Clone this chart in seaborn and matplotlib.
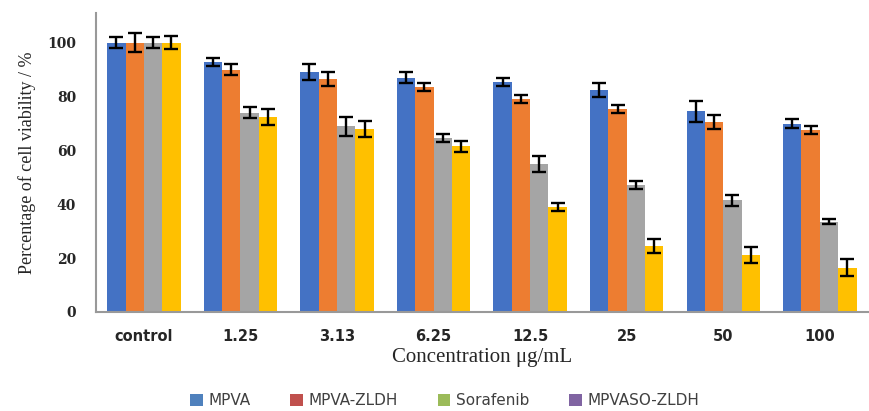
import matplotlib
matplotlib.use("Agg")
import matplotlib.pyplot as plt
from matplotlib.patches import Patch
import numpy as np
import pandas as pd
import seaborn as sns

# data
concentrations = ["control", "1.25", "3.13", "6.25", "12.5", "25", "50", "100"]
series = ["MPVA", "MPVA-ZLDH", "Sorafenib", "MPVASO-ZLDH"]

mpva = [100.0, 93.0, 89.0, 87.0, 85.5, 82.5, 74.5, 70.0]
mpva_zldh = [100.0, 90.0, 86.5, 83.5, 79.0, 75.5, 70.5, 67.5]
sorafenib = [100.0, 74.0, 69.0, 64.5, 55.0, 47.0, 41.5, 33.5]
mpvaso_zldh = [100.0, 72.5, 68.0, 61.5, 39.0, 24.5, 21.0, 16.5]

mpva_err = [2.0, 1.5, 3.0, 2.0, 1.5, 2.5, 4.0, 1.5]
mpva_zldh_err = [3.5, 2.0, 2.5, 1.5, 1.5, 1.5, 2.5, 1.5]
sorafenib_err = [2.0, 2.0, 3.5, 1.5, 3.0, 1.5, 2.0, 1.0]
mpvaso_zldh_err = [2.5, 3.0, 3.0, 2.0, 1.5, 2.5, 3.0, 3.0]

bar_colors = ["#4472C4", "#ED7D31", "#A5A5A5", "#FFC000"]
legend_colors = ["#4F81BD", "#C0504D", "#9BBB59", "#8064A2"]

values = [mpva, mpva_zldh, sorafenib, mpvaso_zldh]
errors = [mpva_err, mpva_zldh_err, sorafenib_err, mpvaso_zldh_err]

df = pd.DataFrame(
    [
        {"conc": c, "series": s, "value": v}
        for s, vals in zip(series, values)
        for c, v in zip(concentrations, vals)
    ]
)

sns.set_style("white")
fig = plt.figure(figsize=(8.69, 4.11), dpi=100)
ax = fig.add_axes([0.110, 0.241, 0.889, 0.727])

sns.barplot(
    data=df, x="conc", y="value", hue="series", order=concentrations,
    hue_order=series, palette=bar_colors, width=0.76, errorbar=None,
    saturation=1, legend=False, linewidth=0, ax=ax,
)

# error bars on top of each bar
for cont, err in zip(ax.containers, errors):
    xs = [b.get_x() + b.get_width() / 2 for b in cont]
    ys = [b.get_height() for b in cont]
    ax.errorbar(xs, ys, yerr=err, fmt="none", ecolor="black",
                elinewidth=1.7, capsize=5, capthick=1.7, zorder=5)

ax.set_xlim(-0.5, 7.5)
ax.set_ylim(0, 111)
ax.set_yticks(np.arange(0, 101, 20))
ax.set_yticklabels([str(t) for t in range(0, 101, 20)],
                   fontfamily="DejaVu Serif", fontweight="bold", fontsize=10)
ax.set_xticks(range(len(concentrations)))
ax.set_xticklabels(concentrations, fontfamily="DejaVu Sans",
                   fontweight="bold", fontsize=10.5)
ax.set_xticks(np.arange(-0.5, 8, 1), minor=True)
ax.tick_params(axis="x", which="major", length=0, pad=12)
ax.tick_params(axis="x", which="minor", length=4, color="#888888", direction="out")
ax.tick_params(axis="y", length=8, color="#888888", direction="out", pad=6)

for side in ["top", "right"]:
    ax.spines[side].set_visible(False)
for side in ["left", "bottom"]:
    ax.spines[side].set_color("#999999")
    ax.spines[side].set_linewidth(1.5)

ax.set_ylabel("Percentage of cell viability / %", fontfamily="Liberation Serif",
              fontsize=13, labelpad=8)
ax.set_xlabel("Concentration μg/mL", fontfamily="Liberation Serif",
              fontsize=15, labelpad=3)

handles = [Patch(facecolor=c, edgecolor="none") for c in legend_colors]
fig.legend(handles, series, loc="center", bbox_to_anchor=(0.512, 0.025),
           ncol=4, frameon=False, handlelength=0.8, handleheight=0.8,
           handletextpad=0.4, columnspacing=2.6,
           prop={"family": "DejaVu Sans", "size": 11})
for t in fig.legends[0].get_texts():
    t.set_color("#404040")

fig.savefig("out.png", dpi=100)
